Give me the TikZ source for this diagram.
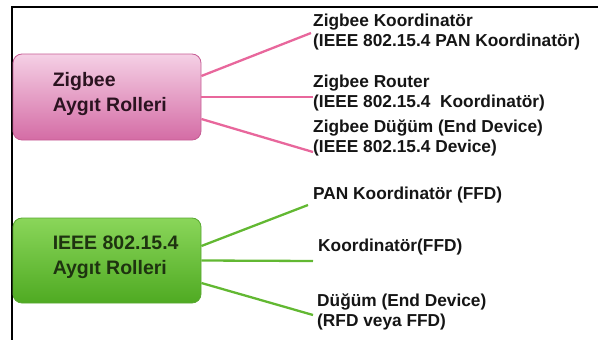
\documentclass[tikz,border=0pt]{standalone}
\usepackage{fontspec}
\setmainfont{Liberation Sans}
\definecolor{pinktop}{HTML}{F5D0E5}
\definecolor{pinkbot}{HTML}{D46CA5}
\definecolor{pinkborder}{HTML}{C65C94}
\definecolor{linkpink}{HTML}{E8679C}
\definecolor{greentop}{HTML}{8AD65A}
\definecolor{greenbot}{HTML}{4FAA22}
\definecolor{greenborder}{HTML}{58A830}
\definecolor{linkgreen}{HTML}{62B832}
\definecolor{pinktext}{HTML}{2B1320}
\definecolor{greentext}{HTML}{1E3310}
\definecolor{labtext}{HTML}{151515}
\begin{document}
\begin{tikzpicture}[x=1pt,y=-1pt,
  lab/.style={anchor=west, align=left, font=\bfseries\fontsize{17.3}{20}\selectfont, text=labtext, inner sep=0pt},
  boxlab/.style={anchor=west, align=left, font=\bfseries\fontsize{19.5}{25}\selectfont, inner sep=0pt},
  rolebox/.style={rounded corners=9pt, minimum width=188pt, minimum height=86pt, inner sep=0pt, line width=0.8pt},
  pinkline/.style={draw=linkpink, line width=2.3pt},
  greenline/.style={draw=linkgreen, line width=2.3pt}]
\useasboundingbox (0,0) rectangle (598,340);
\draw[line width=2pt] (12,340) -- (12,7) -- (598,7);

% boxes
\node[rolebox, draw=pinkborder, top color=pinktop, bottom color=pinkbot] (zb) at (107,97) {};
\node[rolebox, draw=greenborder, top color=greentop, bottom color=greenbot, minimum height=85pt] (ib) at (107,260.5) {};
\node[boxlab, text=pinktext] (zbl) at ([xshift=40pt,yshift=3pt]zb.west) {Zigbee\\Aygıt Rolleri};
\node[boxlab, text=greentext] (ibl) at ([xshift=40pt,yshift=3pt]ib.west) {IEEE 802.15.4\\Aygıt Rolleri};

% labels
\node[lab] (t1) at (313,32) {Zigbee Koordinatör\\(IEEE 802.15.4 PAN Koordinatör)};
\node[lab] (t2) at (313,93) {Zigbee Router\\(IEEE 802.15.4\ \ Koordinatör)};
\node[lab] (t3) at (313,137.5) {Zigbee Düğüm (End Device)\\(IEEE 802.15.4 Device)};
\node[lab] (g1) at (313,195) {PAN Koordinatör (FFD)};
\node[lab] (g2) at (318,247) {Koordinatör(FFD)};
\node[lab] (g3) at (317,312) {Düğüm (End Device)\\(RFD veya FFD)};

% connector ends
\coordinate (p1) at (311,33);
\coordinate (p2) at (313,97);
\coordinate (p3) at (313,152);
\coordinate (q1) at (308,205);
\coordinate (q2) at (313,261);
\coordinate (q3) at (313,315);

\draw[pinkline] ([yshift=21pt]zb.east) -- (p1);
\draw[pinkline] (zb.east) -- (p2);
\draw[pinkline] ([yshift=-22pt]zb.east) -- (p3);
\draw[greenline] ([yshift=14.5pt]ib.east) -- (q1);
\draw[greenline] (ib.east) -- (q2);
\draw[greenline] ([yshift=-22.5pt]ib.east) -- (q3);
\end{tikzpicture}
\end{document}
